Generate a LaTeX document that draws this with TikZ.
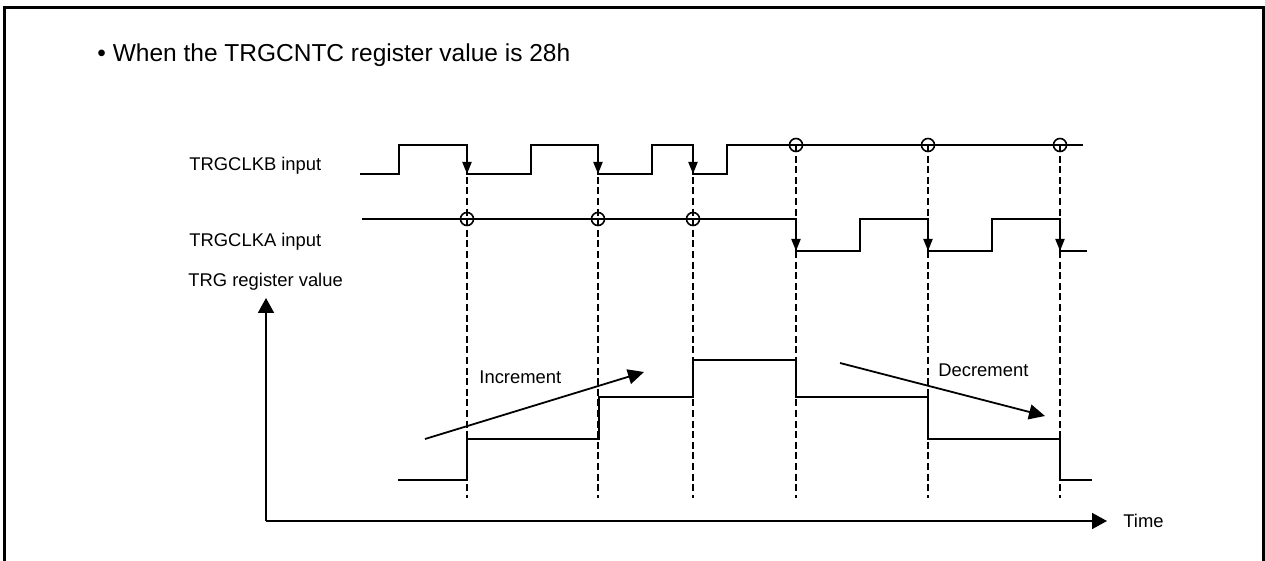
\documentclass[tikz,border=0pt]{standalone}
\usepackage{fontspec}
\setmainfont{Liberation Sans}
\usetikzlibrary{arrows.meta}

\begin{document}
\begin{tikzpicture}[
    x=0.5pt, y=-0.5pt,
    wave/.style={line width=0.95pt},
    edge/.style={line width=0.95pt, -{Triangle[length=6pt,width=4.5pt]}},
    sync/.style={line width=1.35pt, dash pattern=on 3.5pt off 1.8pt},
    hit/.style={circle, draw, line width=0.8pt, minimum size=6.5pt, inner sep=0pt},
    trend/.style={line width=0.9pt, -{Triangle[length=8pt,width=7.5pt]}},
    axis/.style={line width=0.9pt, -{Triangle[length=7.5pt,width=8pt]}},
    txt/.style={font=\fontsize{9.2}{11}\selectfont, inner sep=0pt, anchor=base west}
]
    \useasboundingbox (0,0) rectangle (1265,561);
    \draw[line width=1.5pt] (4.5,561) -- (4.5,7.5) -- (1263.5,7.5) -- (1263.5,561);

    \node[font=\fontsize{12.25}{14}\selectfont, inner sep=0pt, anchor=base west] (title) at (97,62) {• When the TRGCNTC register value is 28h};

    % Signal names
    \node[txt] (clkb) at (189,171) {TRGCLKB input};
    \node[txt] (clka) at (189,247) {TRGCLKA input};
    \node[txt] (trg) at (188,287) {TRG register value};

    % Count timing
    \foreach \x in {467,598,693,796,928,1060}
        \draw[sync] (\x,145) -- (\x,498);

    % TRGCLKB input
    \draw[wave] (360,174) -- (399,174) -- (399,145) -- (467,145) -- (467,174) -- (531,174) -- (531,145)
        -- (598,145) -- (598,174) -- (652,174) -- (652,145) -- (693,145) -- (693,174) -- (727,174)
        -- (727,145) -- (1083,145);
    \foreach \x in {467,598,693}
        \draw[edge] (\x,145) -- (\x,174);

    % TRGCLKA input
    \draw[wave] (362,219) -- (796,219) -- (796,251) -- (860,251) -- (860,219) -- (928,219) -- (928,251)
        -- (992,251) -- (992,219) -- (1060,219) -- (1060,251) -- (1087,251);
    \foreach \x in {796,928,1060}
        \draw[edge] (\x,219) -- (\x,251);

    % Sampled levels
    \foreach \x/\n in {467/a1, 598/a2, 693/a3}
        \node[hit] (\n) at (\x,219) {};
    \foreach \x/\n in {796/b1, 928/b2, 1060/b3}
        \node[hit] (\n) at (\x,145) {};

    % TRG register value
    \draw[wave] (398,480) -- (467,480) -- (467,439) -- (599,439) -- (599,397) -- (693,397) -- (693,360)
        -- (796,360) -- (796,397) -- (928,397) -- (928,439) -- (1060,439) -- (1060,480) -- (1092,480);

    \coordinate (o) at (266,521);
    \draw[axis] (o) -- (266,298);
    \draw[axis] (o) -- (1107,521);
    \node[txt] (time) at (1123,527) {Time};

    % Count direction
    \draw[trend] (425,439) -- (644,372);
    \node[txt] (inc) at (479,384) {Increment};
    \draw[trend] (840,363) -- (1045,416);
    \node[txt] (dec) at (938,377) {Decrement};
\end{tikzpicture}
\end{document}
